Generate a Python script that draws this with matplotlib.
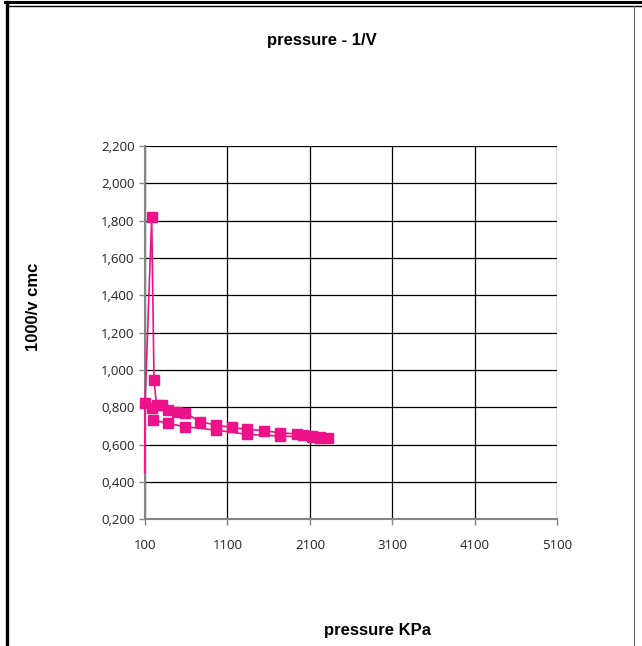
import matplotlib
matplotlib.use("Agg")
import matplotlib.pyplot as plt
from matplotlib.lines import Line2D
from matplotlib.ticker import FuncFormatter, MultipleLocator

# pressure (KPa) and 1000/v values, in drawing order
pressure = [96, 100, 181, 209, 240, 181, 302, 382, 484, 585, 767, 961, 1150,
            1339, 1542, 1736, 1939, 2019, 2120, 2221, 2322, 2221, 2120, 1736,
            1339, 961, 585, 382, 197]
inv_v = [0.45, 0.821, 1.818, 0.946, 0.81, 0.795, 0.812, 0.786, 0.776, 0.771,
         0.723, 0.705, 0.693, 0.682, 0.675, 0.664, 0.657, 0.650, 0.645, 0.640,
         0.634, 0.638, 0.641, 0.646, 0.655, 0.678, 0.696, 0.714, 0.732]
x_ticks = [100, 1100, 2100, 3100, 4100, 5100]

title = "pressure - 1/V"
xlabel = "pressure KPa"
ylabel = "1000/v cmc"
pink = "#EE1289"

fig = plt.figure(figsize=(6.42, 6.46), dpi=100)
ax = fig.add_axes([0.2259, 0.1961, 0.6422, 0.5779])

ax.plot(pressure, inv_v, color=pink, lw=1.2, marker="s", markersize=6.5,
        markevery=list(range(1, len(pressure))), clip_on=False, zorder=3)

ax.set_xlim(100, 5100)
ax.set_ylim(0.2, 2.2)
ax.set_xticks(x_ticks)
ax.yaxis.set_major_locator(MultipleLocator(0.2))
ax.xaxis.set_major_formatter(FuncFormatter(lambda v, p: f"{v:.0f}"))
ax.yaxis.set_major_formatter(FuncFormatter(lambda v, p: f"{v:.3f}".replace(".", ",")))
ax.grid(True, color="black", lw=0.9)
ax.set_axisbelow(True)
for s in ["top", "right"]:
    ax.spines[s].set_visible(False)
for s in ["left", "bottom"]:
    ax.spines[s].set_color("#868686")
    ax.spines[s].set_linewidth(1.5)
ax.tick_params(colors="#868686", length=4, width=1, labelcolor="#222222",
               labelsize=9.5)
for lab in ax.get_xticklabels() + ax.get_yticklabels():
    lab.set_family("Open Sans")
ax.tick_params(axis="x", pad=10)

fig.text(0.5016, 1 - 40 / 646, title, ha="center", va="center",
         fontsize=12, fontweight="bold", family="Liberation Sans")
fig.text(378 / 642, 1 - 630 / 646, xlabel, ha="center", va="center",
         fontsize=12, fontweight="bold", family="Liberation Sans")
fig.text(33 / 642, 1 - 307 / 646, ylabel, ha="center", va="center",
         rotation=90, fontsize=12, fontweight="bold", family="Liberation Sans")

# outer border lines
W, H = 642, 646
def fl(x0, y0, x1, y1, lw, c="black"):
    fig.add_artist(Line2D([x0 / W, x1 / W], [1 - y0 / H, 1 - y1 / H],
                          color=c, lw=lw, transform=fig.transFigure))

fl(5, 2, 642, 2, 2.2)
fl(7, 5.7, 642, 5.7, 1.0)
fl(6.5, 2, 6.5, 646, 2.4)
fl(634, 5.7, 634, 646, 0.8, "#666666")

fig.savefig("out.png", dpi=100)
